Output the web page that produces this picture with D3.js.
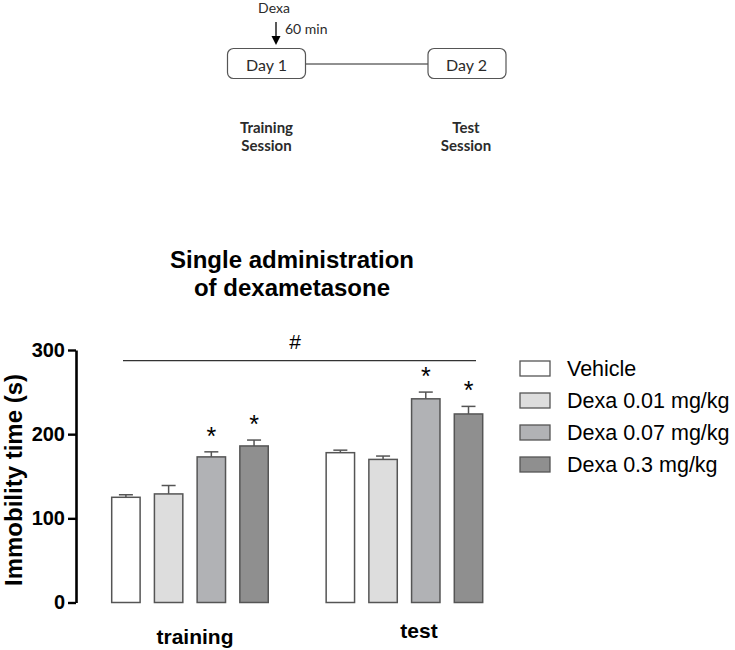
<!DOCTYPE html>
<html><head><meta charset="utf-8">
<script src="https://cdn.jsdelivr.net/npm/d3@7"></script>
<style>body{margin:0;background:#fff}svg{display:block}</style>
</head><body>
<script>
const sessions = ["training", "test"];
const groups = ["Vehicle", "Dexa 0.01 mg/kg", "Dexa 0.07 mg/kg", "Dexa 0.3 mg/kg"];
const trainingMeans = [125, 129, 173, 186];
const trainingSEM = [3, 10, 6, 7];
const testMeans = [178, 170, 242, 224];
const testSEM = [3, 4, 8, 9];
const trainingStars = ["", "", "*", "*"];
const testStars = ["", "", "*", "*"];
const yTicks = [0, 100, 200, 300];
const colors = ["#ffffff", "#dddddd", "#b1b2b5", "#8f8f8f"];

const data = [];
sessions.forEach((s, si) => {
  const m = si === 0 ? trainingMeans : testMeans;
  const e = si === 0 ? trainingSEM : testSEM;
  const st = si === 0 ? trainingStars : testStars;
  groups.forEach((g, gi) => data.push({session: s, group: g, gi, mean: m[gi], sem: e[gi], star: st[gi]}));
});

const W = 735, H = 650;
const svg = d3.select("body").append("svg").attr("width", W).attr("height", H);
const ARIAL = "'Liberation Sans', Arial, Helvetica, sans-serif";
const CAL = "Lato, 'Open Sans', sans-serif";

// ---- Top protocol diagram ----
svg.append("line").attr("x1", 306).attr("x2", 428).attr("y1", 64).attr("y2", 64).attr("stroke", "#222").attr("stroke-width", 1);
[[227, "Day 1"], [427.5, "Day 2"]].forEach(([x, t]) => {
  svg.append("rect").attr("x", x + 0.5).attr("y", 48.5).attr("width", 78).attr("height", 30).attr("rx", 6)
    .attr("fill", "#fff").attr("stroke", "#555").attr("stroke-width", 1.2);
});
const diag = svg.append("g").attr("font-family", CAL).attr("fill", "#2b2b2b");
diag.append("text").attr("x", 274).attr("y", 13).attr("text-anchor", "middle").attr("font-size", 14).text("Dexa");
svg.append("line").attr("x1", 276).attr("x2", 276).attr("y1", 22).attr("y2", 40).attr("stroke", "#000").attr("stroke-width", 1.3);
svg.append("path").attr("d", "M271.5,36 L280.5,36 L276,45 Z").attr("fill", "#000");
diag.append("text").attr("x", 285).attr("y", 34).attr("font-size", 14).text("60 min");
[[266.5, "Day 1"], [466.5, "Day 2"]].forEach(([x, t]) => {
  diag.append("text").attr("x", x).attr("y", 71).attr("text-anchor", "middle").attr("font-size", 16).text(t);
});
[[266.5, "Training"], [466, "Test"]].forEach(([x, t]) => {
  diag.append("text").attr("x", x).attr("y", 133).attr("text-anchor", "middle").attr("font-size", 15).attr("font-weight", "bold").text(t);
  diag.append("text").attr("x", x).attr("y", 151).attr("text-anchor", "middle").attr("font-size", 15).attr("font-weight", "bold").text("Session");
});

// ---- Title ----
const title = svg.append("text").attr("font-family", ARIAL).attr("font-weight", "bold").attr("font-size", 24).attr("text-anchor", "middle").attr("fill", "#000");
title.append("tspan").attr("x", 292).attr("y", 268).text("Single administration");
title.append("tspan").attr("x", 292).attr("y", 296).text("of dexametasone");

// ---- Scales ----
const y = d3.scaleLinear().domain([0, 300]).range([602.5, 350]);
const x0 = d3.scaleBand().domain(sessions).range([111.7, 482.7]).paddingInner(0.27).paddingOuter(0);
const x1 = d3.scaleBand().domain(groups).range([0, x0.bandwidth()]).paddingInner(0.335).paddingOuter(0);

// ---- Axis ----
const axis = svg.append("g").attr("transform", "translate(76,0)")
  .call(d3.axisLeft(y).tickValues(yTicks).tickSize(8).tickSizeOuter(0).tickPadding(3));
axis.select(".domain").attr("stroke", "#000").attr("stroke-width", 2.6);
axis.selectAll(".tick line").attr("stroke", "#000").attr("stroke-width", 2.4);
axis.selectAll(".tick text").attr("font-family", ARIAL).attr("font-weight", "bold").attr("font-size", 20).attr("fill", "#000");

svg.append("text").attr("transform", "translate(22,480) rotate(-90)").attr("text-anchor", "middle")
  .attr("font-family", ARIAL).attr("font-weight", "bold").attr("font-size", 24).attr("fill", "#000").text("Immobility time (s)");

// ---- Bars ----
const bx = d => x0(d.session) + x1(d.group);
const bars = svg.append("g");
bars.selectAll("rect").data(data).join("rect")
  .attr("x", d => bx(d)).attr("width", x1.bandwidth())
  .attr("y", d => y(d.mean)).attr("height", d => y(0) - y(d.mean))
  .attr("fill", d => colors[d.gi]).attr("stroke", "#555").attr("stroke-width", 1.5);
const eb = svg.append("g").attr("stroke", "#555").attr("stroke-width", 1.5);
eb.selectAll("line.v").data(data).join("line").attr("class", "v")
  .attr("x1", d => bx(d) + x1.bandwidth() / 2).attr("x2", d => bx(d) + x1.bandwidth() / 2)
  .attr("y1", d => y(d.mean)).attr("y2", d => y(d.mean + d.sem));
eb.selectAll("line.c").data(data).join("line").attr("class", "c")
  .attr("x1", d => bx(d) + x1.bandwidth() / 2 - 7).attr("x2", d => bx(d) + x1.bandwidth() / 2 + 7)
  .attr("y1", d => y(d.mean + d.sem)).attr("y2", d => y(d.mean + d.sem));
svg.append("g").selectAll("text").data(data.filter(d => d.star)).join("text")
  .attr("x", d => bx(d) + x1.bandwidth() / 2).attr("y", d => y(d.mean + d.sem) - 7)
  .attr("text-anchor", "middle").attr("font-family", ARIAL).attr("font-size", 25).attr("fill", "#000").text(d => d.star);

// # bracket
svg.append("line").attr("x1", 123).attr("x2", 476).attr("y1", 360.7).attr("y2", 360.7).attr("stroke", "#333").attr("stroke-width", 1.3);
svg.append("text").attr("x", 295).attr("y", 349).attr("text-anchor", "middle").attr("font-family", ARIAL).attr("font-size", 21).attr("fill", "#000").text("#");

// category labels
svg.append("text").attr("x", 195).attr("y", 644).attr("text-anchor", "middle").attr("font-family", ARIAL).attr("font-weight", "bold").attr("font-size", 21).attr("fill", "#000").text(sessions[0]);
svg.append("text").attr("x", 419).attr("y", 638).attr("text-anchor", "middle").attr("font-family", ARIAL).attr("font-weight", "bold").attr("font-size", 21).attr("fill", "#000").text(sessions[1]);

// ---- Legend ----
const leg = svg.append("g").selectAll("g").data(groups).join("g").attr("transform", (d, i) => `translate(520,${361 + i * 32})`);
leg.append("rect").attr("width", 30).attr("height", 15).attr("fill", (d, i) => colors[i]).attr("stroke", "#555").attr("stroke-width", 1.3);
leg.append("text").attr("x", 47).attr("y", 15).attr("font-family", ARIAL).attr("font-size", 21.5).attr("fill", "#000").text(d => d);
</script>
</body></html>
